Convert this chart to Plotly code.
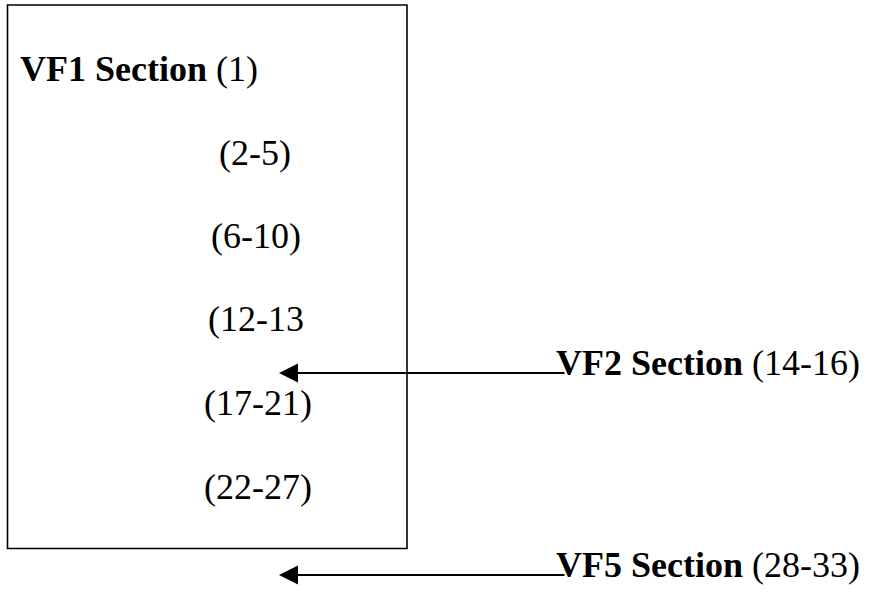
import plotly.graph_objects as go

# Diagram content
box_bold = ["VF1 Section", "", "", "", "", ""]
box_plain = ["(1)", "(2-5)", "(6-10)", "(12-13", "(17-21)", "(22-27)"]
box_x = [18, 255, 256, 256, 258, 258]
box_anchor = ["left", "center", "center", "center", "center", "center"]
box_y = [69, 153, 236, 319, 403, 487]

side_bold = ["VF2 Section", "VF5 Section"]
side_plain = ["(14-16)", "(28-33)"]
side_y = [363, 565]
arrow_y = [373, 575]

FONT = "Liberation Serif, Times New Roman, serif"
FS = 36

fig = go.Figure()
fig.add_trace(go.Scatter(x=[0, 881], y=[0, 602], mode="markers",
                         marker=dict(opacity=0), hoverinfo="skip", showlegend=False))

fig.add_shape(type="rect", x0=7.5, x1=407, y0=5, y1=548.5,
              line=dict(color="black", width=1.6), xref="x", yref="y")

for b, p, x, a, y in zip(box_bold, box_plain, box_x, box_anchor, box_y):
    txt = (f"<b>{b}</b> {p}" if b else p)
    fig.add_annotation(x=x, y=y, xref="x", yref="y", text=txt, showarrow=False,
                       xanchor=a, yanchor="middle",
                       font=dict(family=FONT, size=FS, color="black"))

for ay in arrow_y:
    fig.add_annotation(x=279, y=ay, ax=566, ay=ay, xref="x", yref="y",
                       axref="x", ayref="y", text="", showarrow=True,
                       arrowhead=2, arrowsize=1.9, arrowwidth=2, arrowcolor="black")

for b, p, y in zip(side_bold, side_plain, side_y):
    fig.add_annotation(x=554, y=y, xref="x", yref="y", text=f"<b>{b}</b> {p}",
                       showarrow=False, xanchor="left", yanchor="middle",
                       font=dict(family=FONT, size=FS, color="black"))

fig.update_layout(width=881, height=602, margin=dict(l=0, r=0, t=0, b=0),
                  paper_bgcolor="white", plot_bgcolor="white",
                  xaxis=dict(range=[0, 881], visible=False, fixedrange=True),
                  yaxis=dict(range=[602, 0], visible=False, fixedrange=True),
                  showlegend=False)

fig.write_html("out.html", config={"displayModeBar": False},
               post_script="document.body.style.margin='0';document.body.style.overflow='hidden';")
